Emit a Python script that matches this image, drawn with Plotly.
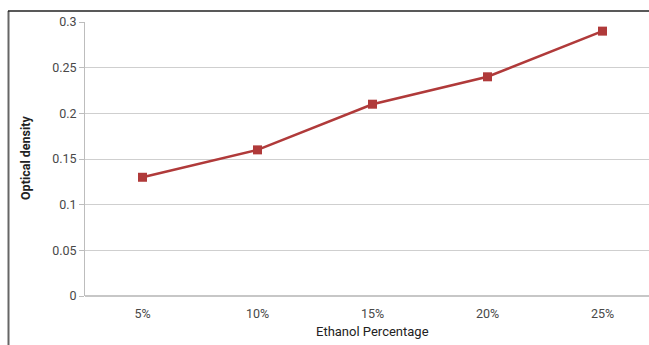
import plotly.graph_objects as go

# Optical density measured at each ethanol concentration
ethanol_pct = ["5%", "10%", "15%", "20%", "25%"]
optical_density = [0.13, 0.16, 0.21, 0.24, 0.29]
y_ticks = [0, 0.05, 0.1, 0.15, 0.2, 0.25, 0.3]
y_tick_text = ["0", "0.05", "0.1", "0.15", "0.2", "0.25", "0.3"]

W, H = 649, 345
ML, MR, MT, MB = 85, 0, 22, 49
PW, PH = W - ML - MR, H - MT - MB

line_color = "#b03a3a"
tick_font = dict(family="Roboto", size=12.5, color="#484848")

fig = go.Figure(
    go.Scatter(
        x=list(range(len(ethanol_pct))),
        y=optical_density,
        mode="lines+markers",
        line=dict(color=line_color, width=2.6),
        marker=dict(symbol="square", size=9, color=line_color),
        hoverinfo="skip",
    )
)

# category spacing of 115 px, chart continues past the right edge
step = 115.0
x_hi = -0.5 + PW / step

fig.update_xaxes(
    range=[-0.5, x_hi],
    tickmode="array",
    tickvals=list(range(len(ethanol_pct))),
    ticktext=ethanol_pct,
    showgrid=False,
    zeroline=False,
    showline=False,
    ticks="",
    ticklabelstandoff=8,
    tickfont=tick_font,
)
fig.update_yaxes(
    range=[0, 0.3],
    tickmode="array",
    tickvals=y_ticks,
    ticktext=y_tick_text,
    showgrid=True,
    gridcolor="#cfcfcf",
    gridwidth=1,
    zeroline=False,
    showline=True,
    linecolor="#bdbdbd",
    linewidth=1,
    ticks="outside",
    ticklen=5,
    tickcolor="#bdbdbd",
    tickfont=tick_font,
)

def px_x(px):
    return (px - ML) / PW

def px_y(py):
    return (H - MB - py) / PH

shapes = [
    # baseline
    dict(type="line", xref="paper", yref="paper", x0=0, x1=1, y0=0, y1=0,
         line=dict(color="#b5b5b5", width=1.5)),
    # frame around the figure
    dict(type="line", xref="paper", yref="paper", x0=px_x(8.5), x1=px_x(8.5),
         y0=px_y(11), y1=px_y(345), line=dict(color="#666666", width=2)),
    dict(type="line", xref="paper", yref="paper", x0=px_x(8), x1=px_x(649),
         y0=px_y(11), y1=px_y(11), line=dict(color="#222222", width=1.5)),
]

annotations = [
    dict(text="Ethanol Percentage", xref="x", yref="paper", x=2, y=px_y(331),
         showarrow=False, xanchor="center", yanchor="middle",
         font=dict(family="Roboto", size=13, color="#222222")),
    dict(text="<b>Optical density</b>", xref="paper", yref="paper", x=px_x(25),
         y=px_y(158), textangle=-90, showarrow=False, xanchor="center",
         yanchor="middle", font=dict(family="Roboto", size=12.5, color="#222222")),
]

fig.update_layout(
    width=W,
    height=H,
    margin=dict(l=ML, r=MR, t=MT, b=MB),
    paper_bgcolor="white",
    plot_bgcolor="white",
    showlegend=False,
    shapes=shapes,
    annotations=annotations,
)

fig.write_html("out.html")
